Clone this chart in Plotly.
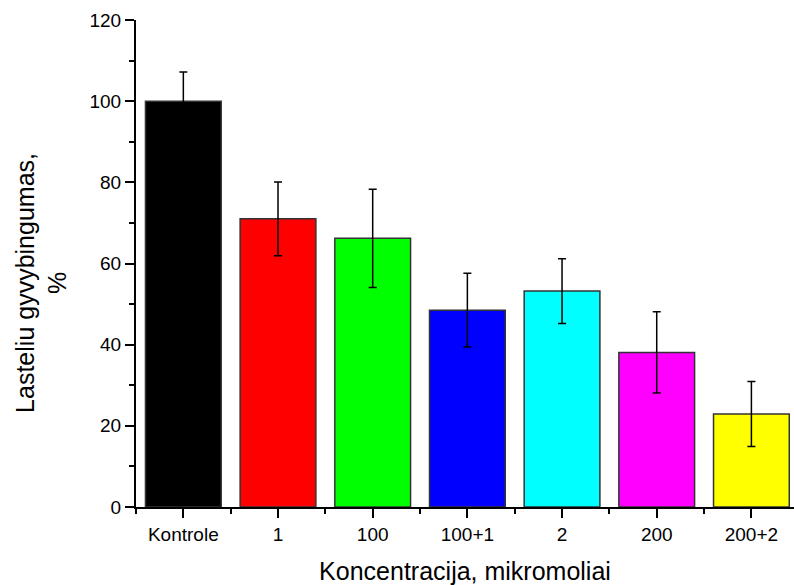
import plotly.graph_objects as go

categories = ["Kontrole", "1", "100", "100+1", "2", "200", "200+2"]
values = [100, 71, 66.2, 48.5, 53.2, 38.1, 22.9]
errors = [7.2, 9.1, 12.1, 9.1, 8.0, 10.0, 8.0]
colors = ["#000000", "#FF0000", "#00FF00", "#0000FF", "#00FFFF", "#FF00FF", "#FFFF00"]
y_ticks = [0, 20, 40, 60, 80, 100, 120]

xpos = list(range(len(categories)))

fig = go.Figure()
fig.add_trace(go.Bar(
    x=xpos, y=values, width=0.8,
    marker=dict(color=colors, line=dict(color="#333333", width=1.5)),
    error_y=dict(type="data", array=errors, visible=True,
                 color="#000000", thickness=1.5, width=4),
    showlegend=False,
))

font_family = "Liberation Sans, Arial, sans-serif"

fig.update_layout(
    width=794, height=585,
    margin=dict(l=136, r=0, t=20, b=78),
    paper_bgcolor="white", plot_bgcolor="white",
    font=dict(family=font_family, color="black"),
    bargap=0.2,
)
fig.update_xaxes(
    range=[-0.5, 6.45],
    tickmode="array", tickvals=xpos, ticktext=categories,
    showline=True, linecolor="black", linewidth=2,
    ticks="outside", ticklen=9, tickwidth=2, tickcolor="black",
    minor=dict(tick0=0.5, dtick=1, ticks="outside", ticklen=5, tickwidth=2, tickcolor="black"),
    showgrid=False, zeroline=False,
    tickfont=dict(size=19, family=font_family),
    title=dict(text="Koncentracija, mikromoliai", font=dict(size=25, family=font_family), standoff=20),
)
fig.update_yaxes(
    range=[0, 120],
    tickmode="array", tickvals=y_ticks,
    showline=True, linecolor="black", linewidth=2,
    ticks="outside", ticklen=9, tickwidth=2, tickcolor="black",
    minor=dict(tick0=10, dtick=20, ticks="outside", ticklen=5, tickwidth=2, tickcolor="black"),
    showgrid=False, zeroline=False,
    tickfont=dict(size=19, family=font_family),
)
fig.add_annotation(
    text="Lasteliu gyvybingumas,<br>%", textangle=-90,
    xref="paper", yref="paper", x=-0.143, y=0.46,
    xanchor="center", yanchor="middle", showarrow=False,
    font=dict(size=25, family=font_family, color="black"),
)

fig.write_html("out.html")
